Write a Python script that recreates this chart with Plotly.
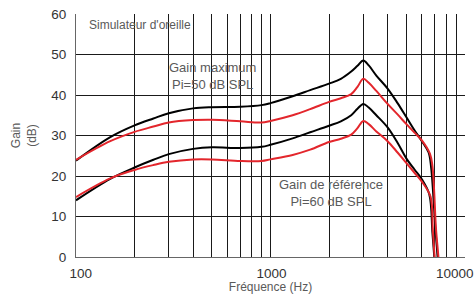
import plotly.graph_objects as go

# Upper pair: "Gain maximum, Pi=50 dB SPL"
freq_max_black = [100, 150, 200, 250, 300, 400, 500, 700, 900, 1000, 1300, 1600, 2000, 2300, 2600, 2800, 3000, 3200, 3500, 4000, 4500, 5000, 5500, 6000, 6500, 6700, 7050, 7230, 7300]
gain_max_black = [23.8, 29.6, 32.5, 34.2, 35.5, 36.7, 37.0, 37.1, 37.5, 38.0, 39.7, 41.2, 42.8, 44.0, 45.8, 47.2, 48.5, 47.3, 44.8, 41.6, 38.0, 34.5, 31.3, 28.6, 25.8, 22.0, 6.7, 0.0, -3.0]

freq_max_red = [100, 150, 200, 250, 300, 400, 500, 700, 900, 1000, 1300, 1600, 2000, 2300, 2600, 2800, 3000, 3200, 3500, 4000, 4500, 5000, 5500, 6000, 6600, 6800, 7100, 7300, 7370]
gain_max_red = [24.0, 28.6, 30.9, 32.2, 33.2, 33.8, 33.9, 33.5, 33.2, 33.6, 35.0, 36.5, 38.3, 39.2, 40.2, 42.0, 44.0, 43.0, 41.0, 37.8, 35.2, 32.8, 30.7, 28.8, 25.5, 22.5, 6.7, 0.0, -3.0]

# Lower pair: "Gain de référence, Pi=60 dB SPL"
freq_ref_black = [100, 150, 200, 250, 300, 400, 500, 700, 900, 1000, 1300, 1600, 2000, 2300, 2600, 2800, 3000, 3200, 3500, 4000, 4500, 5000, 5500, 6000, 6550, 6800, 6950, 7000]
gain_ref_black = [14.0, 19.3, 22.1, 24.0, 25.4, 26.7, 27.1, 26.9, 27.2, 27.7, 29.3, 30.8, 32.4, 33.5, 35.0, 36.6, 37.8, 36.9, 35.0, 32.0, 28.2, 24.3, 21.6, 19.2, 15.5, 6.0, 0.0, -3.0]

freq_ref_red = [100, 150, 200, 250, 300, 400, 500, 700, 900, 1000, 1300, 1600, 2000, 2300, 2600, 2800, 3000, 3200, 3500, 4000, 4500, 5000, 5500, 6000, 6650, 6830, 6980, 7050]
gain_ref_red = [14.8, 19.4, 21.5, 22.7, 23.5, 24.1, 24.1, 23.7, 23.7, 24.1, 25.2, 26.5, 28.4, 29.2, 30.2, 31.8, 33.6, 32.8, 31.0, 28.6, 25.8, 23.2, 20.8, 18.6, 14.9, 6.7, 0.0, -3.0]

x_tickvals = [100, 1000, 10000]
x_ticktext = ["\u00a0" * 6 + "100", "\u00a0" * 4 + "1000", "10000"]
y_tickvals = [0, 10, 20, 30, 40, 50, 60]

BLACK = "#000000"
RED = "#e3262c"
FONT = "Liberation Sans, Arial, sans-serif"
TEXT_GRAY = "#5a5a5a"
GRID = "#1a1a1a"

fig = go.Figure()
for fx, gy, col in [
    (freq_max_black, gain_max_black, BLACK),
    (freq_ref_black, gain_ref_black, BLACK),
    (freq_max_red, gain_max_red, RED),
    (freq_ref_red, gain_ref_red, RED),
]:
    fig.add_trace(go.Scatter(x=fx, y=gy, mode="lines",
                             line=dict(color=col, width=2, shape="spline", smoothing=1.0),
                             showlegend=False, hoverinfo="skip"))

fig.update_layout(
    width=474, height=294,
    margin=dict(l=76, r=9, t=14, b=37),
    paper_bgcolor="white", plot_bgcolor="white",
    font=dict(family=FONT, color="#333333", size=13),
    showlegend=False,
    annotations=[
        dict(text="Simulateur d'oreille", xref="paper", yref="paper", x=0.027, y=0.955,
             xanchor="left", yanchor="middle", showarrow=False,
             font=dict(size=12, color=TEXT_GRAY, family=FONT)),
        dict(text="Gain maximum<br>Pi=50 dB SPL", xref="paper", yref="paper", x=0.35, y=0.745,
             xanchor="center", yanchor="middle", showarrow=False,
             font=dict(size=13, color=TEXT_GRAY, family=FONT)),
        dict(text="Gain de référence<br>Pi=60 dB SPL", xref="paper", yref="paper", x=0.656, y=0.265,
             xanchor="center", yanchor="middle", showarrow=False,
             font=dict(size=13, color=TEXT_GRAY, family=FONT)),
    ],
)

fig.update_xaxes(
    type="log", range=[2, 4], automargin=False,
    tickvals=x_tickvals, ticktext=x_ticktext, ticklabeloverflow="allow",
    ticklabelposition="outside right", ticklabelshift=-30, ticklabelstandoff=4,
    showgrid=True, gridcolor=GRID, gridwidth=1,
    minor=dict(dtick="D1", showgrid=True, gridcolor=GRID, gridwidth=1, ticks=""),
    showline=True, linecolor="#666666", linewidth=1,
    ticks="outside", ticklen=4, tickcolor="rgba(0,0,0,0)",
    tickfont=dict(size=13.5, color="#333333", family=FONT),
    title=dict(text="Fréquence (Hz)", font=dict(size=12, color=TEXT_GRAY, family=FONT), standoff=2),
    zeroline=False,
)
fig.update_yaxes(
    range=[0, 60], tickvals=y_tickvals, automargin=False,
    showgrid=True, gridcolor=GRID, gridwidth=1,
    showline=True, linecolor="#666666", linewidth=1,
    ticks="outside", ticklen=6, tickcolor="rgba(0,0,0,0)",
    tickfont=dict(size=13.5, color="#333333", family=FONT),
    title=dict(text="Gain<br>(dB)", font=dict(size=12, color=TEXT_GRAY, family=FONT), standoff=12),
    zeroline=False,
)

fig.write_html("out.html", config={"displayModeBar": False},
               post_script="document.body.style.margin='0';document.body.style.padding='0';")
